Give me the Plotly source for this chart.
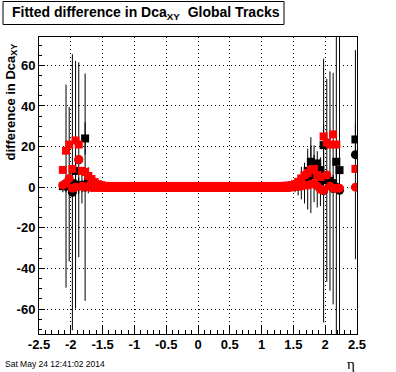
import plotly.graph_objects as go

# eta bin centres (bin width 0.05) where the histograms have entries
ETA = [-2.125, -2.075, -2.025, -1.975, -1.925, -1.875, -1.825, -1.775, -1.725, -1.675,
       -1.625, -1.575, -1.525, -1.475, -1.425, -1.375, -1.325, -1.275, -1.225, -1.175,
       -1.125, -1.075, -1.025, -0.975, -0.925, -0.875, -0.825, -0.775, -0.725, -0.675,
       -0.625, -0.575, -0.525, -0.475, -0.425, -0.375, -0.325, -0.275, -0.225, -0.175,
       -0.125, -0.075, -0.025, 0.025, 0.075, 0.125, 0.175, 0.225, 0.275, 0.325,
       0.375, 0.425, 0.475, 0.525, 0.575, 0.625, 0.675, 0.725, 0.775, 0.825,
       0.875, 0.925, 0.975, 1.025, 1.075, 1.125, 1.175, 1.225, 1.275, 1.325,
       1.375, 1.425, 1.475, 1.525, 1.575, 1.625, 1.675, 1.725, 1.775, 1.825,
       1.875, 1.925, 1.975, 2.025, 2.075, 2.125, 2.175, 2.225, 2.275, 2.325,
       2.375, 2.425, 2.475]

# black squares
BLACK_SQ = [0.5, 0.5, 0.8, 2.0, 8.0, 0.8, 0.5, 24.0, 0.5, 0.4,
            0.3, 0.2, 0.1, 0.1, 0.1, 0.1, 0.1, 0.1, 0.1, 0.1,
            0.1, 0.1, 0.1, 0.1, 0.1, 0.1, 0.1, 0.1, 0.1, 0.1,
            0.1, 0.1, 0.1, 0.1, 0.1, 0.1, 0.1, 0.1, 0.1, 0.1,
            0.1, 0.1, 0.1, 0.1, 0.1, 0.1, 0.1, 0.1, 0.1, 0.1,
            0.1, 0.1, 0.1, 0.1, 0.1, 0.1, 0.1, 0.1, 0.1, 0.1,
            0.1, 0.1, 0.1, 0.1, 0.1, 0.1, 0.1, 0.1, 0.1, 0.1,
            0.1, 0.2, 0.3, 0.5, 1.0, 2.0, 3.0, 8.0, 12.5, 10.0,
            11.7, 8.4, 20.7, 4.0, 3.0, 2.0, 12.5, 8.4, None, None,
            None, None, 23.5]
BLACK_SQ_ERR = [3, 3, 4, 5, 6, 4, 3, 8, 2, 2,
                1, 1, 1, 1, 1, 1, 1, 1, 1, 1,
                1, 1, 1, 1, 1, 1, 1, 1, 1, 1,
                1, 1, 1, 1, 1, 1, 1, 1, 1, 1,
                1, 1, 1, 1, 1, 1, 1, 1, 1, 1,
                1, 1, 1, 1, 1, 1, 1, 1, 1, 1,
                1, 1, 1, 1, 1, 1, 1, 1, 1, 1,
                1, 1, 1, 1, 2, 3, 4, 6, 8, 6,
                6, 5, 10, 4, 4, 4, 8, 6, 0, 0,
                0, 0, 8]

# black circles
BLACK_CI = [None, 0.5, 1.5, -2.5, 1.2, 13.5, 1.0, 0.0, 3.4, 1.0,
            0.5, 0.3, 0.0, 0.0, 0.0, 0.0, 0.0, 0.0, 0.0, 0.0,
            0.0, 0.0, 0.0, 0.0, 0.0, 0.0, 0.0, 0.0, 0.0, 0.0,
            0.0, 0.0, 0.0, 0.0, 0.0, 0.0, 0.0, 0.0, 0.0, 0.0,
            0.0, 0.0, 0.0, 0.0, 0.0, 0.0, 0.0, 0.0, 0.0, 0.0,
            0.0, 0.0, 0.0, 0.0, 0.0, 0.0, 0.0, 0.0, 0.0, 0.0,
            0.0, 0.0, 0.0, 0.0, 0.0, 0.0, 0.0, 0.0, 0.0, 0.0,
            0.0, 0.0, 0.3, 0.5, 1.0, 2.0, 2.0, 4.0, 5.9, 6.6,
            1.0, 2.7, -1.7, 3.4, 3.0, -0.7, 0.0, -1.5, None, None,
            None, None, 16.0]
BLACK_CI_ERR = [0, 50, 38, 68, 61, 48, 9, 56, 6.4, 3,
                2, 1.5, 1, 1, 1, 1, 1, 1, 1, 1,
                1, 1, 1, 1, 1, 1, 1, 1, 1, 1,
                1, 1, 1, 1, 1, 1, 1, 1, 1, 1,
                1, 1, 1, 1, 1, 1, 1, 1, 1, 1,
                1, 1, 1, 1, 1, 1, 1, 1, 1, 1,
                1, 1, 1, 1, 1, 1, 1, 1, 1, 1,
                1, 1, 2, 3, 5, 8, 10, 15, 18.7, 14,
                11, 12, 65, 50, 54, 57, 85, 90, 0, 0,
                0, 0, 51.5]

# red squares
RED_SQ = [8.5, 18.0, 21.0, 9.0, 23.0, 21.0, 8.0, 7.5, 5.5, 4.0,
          2.5, 1.5, 1.0, 0.7, 0.6, 0.6, 0.6, 0.6, 0.6, 0.6,
          0.6, 0.6, 0.6, 0.6, 0.6, 0.6, 0.6, 0.6, 0.6, 0.6,
          0.6, 0.6, 0.6, 0.6, 0.6, 0.6, 0.6, 0.6, 0.6, 0.6,
          0.6, 0.6, 0.6, 0.6, 0.6, 0.6, 0.6, 0.6, 0.6, 0.6,
          0.6, 0.6, 0.6, 0.6, 0.6, 0.6, 0.6, 0.6, 0.6, 0.6,
          0.6, 0.6, 0.6, 0.6, 0.6, 0.6, 0.6, 0.6, 0.6, 0.6,
          0.7, 0.8, 1.0, 1.5, 2.6, 4.3, 5.9, 7.0, 8.4, 9.0,
          6.0, 5.0, 25.0, 22.0, 21.0, 26.0, 21.0, None, None, None,
          None, None, 9.0]

# red circles
RED_CI = [1.0, 2.0, 4.3, -0.5, 0.0, 13.6, 0.5, 0.0, 0.5, -0.2,
          -0.2, -0.2, -0.2, -0.2, -0.2, -0.2, -0.2, -0.2, -0.2, -0.2,
          -0.2, -0.2, -0.2, -0.2, -0.2, -0.2, -0.2, -0.2, -0.2, -0.2,
          -0.2, -0.2, -0.2, -0.2, -0.2, -0.2, -0.2, -0.2, -0.2, -0.2,
          -0.2, -0.2, -0.2, -0.2, -0.2, -0.2, -0.2, -0.2, -0.2, -0.2,
          -0.2, -0.2, -0.2, -0.2, -0.2, -0.2, -0.2, -0.2, -0.2, -0.2,
          -0.2, -0.2, -0.2, -0.2, -0.2, -0.2, -0.2, -0.2, -0.2, -0.2,
          -0.2, -0.2, 0.0, 0.5, 0.3, 0.5, 1.0, 1.0, 1.5, 1.8,
          0.5, -1.0, -1.5, 6.0, 0.5, -0.5, -0.5, -0.5, None, None,
          None, None, 0.0]

X_TICKS = [-2.5, -2.0, -1.5, -1.0, -0.5, 0.0, 0.5, 1.0, 1.5, 2.0, 2.5]
X_TICK_LABELS = ["-2.5", "-2", "-1.5", "-1", "-0.5", "0", "0.5", "1", "1.5", "2", "2.5"]
Y_TICKS = [-60, -40, -20, 0, 20, 40, 60]
Y_TICK_LABELS = ["-60", "-40", "-20", "0", "20", "40", "60"]

TITLE = "Fitted difference in Dca<sub>XY</sub>\u00a0\u00a0Global Tracks"
Y_TITLE = "difference in Dca<sub>XY</sub>"
X_TITLE = "\u03b7"
DATE = "Sat May 24 12:41:02 2014"

W, H = 396, 372
L, R, T, B = 39, 39, 37, 38
PW, PH = W - L - R, H - T - B


def px(x):
    return (x - L) / PW


def py(y):
    return 1 - (y - T) / PH


fig = go.Figure()

def add(y, err, symbol, color, size):
    fig.add_trace(go.Scatter(
        x=ETA, y=y, mode="markers",
        marker=dict(symbol=symbol, color=color, size=size, line=dict(width=0)),
        error_y=dict(type="data", array=err, visible=err is not None,
                     color="black", thickness=1, width=0),
        showlegend=False, hoverinfo="skip"))

add(BLACK_SQ, BLACK_SQ_ERR, "square", "black", 8)
add(BLACK_CI, BLACK_CI_ERR, "circle", "black", 9)
add(RED_SQ, None, "square", "#ff0000", 8)
add(RED_CI, None, "circle", "#ff0000", 9)

tickfont = dict(family="Liberation Sans, Arial, sans-serif", size=13, color="black", weight="bold")

fig.update_layout(
    width=W, height=H, autosize=False,
    margin=dict(l=L, r=R, t=T, b=B, pad=0),
    paper_bgcolor="white", plot_bgcolor="white",
    xaxis=dict(range=[-2.5, 2.5], tickmode="array", tickvals=X_TICKS, ticktext=X_TICK_LABELS,
               ticks="inside", ticklen=9, tickwidth=1, tickcolor="black",
               showgrid=True, gridcolor="black", gridwidth=1, griddash="1px,3px",
               zeroline=False, showline=True, mirror=True, linecolor="black", linewidth=1,
               minor=dict(dtick=0.1, tick0=-2.5, ticks="inside", ticklen=4, tickcolor="black",
                          tickwidth=1, showgrid=False),
               tickfont=tickfont, ticklabelstandoff=-2, fixedrange=True),
    yaxis=dict(range=[-72.3, 73.95], tickmode="array", tickvals=Y_TICKS, ticktext=Y_TICK_LABELS,
               ticks="inside", ticklen=6, tickwidth=1, tickcolor="black",
               showgrid=True, gridcolor="black", gridwidth=1, griddash="1px,3px",
               zeroline=False, showline=True, mirror=True, linecolor="black", linewidth=1,
               minor=dict(dtick=5, tick0=0, ticks="inside", ticklen=3, tickcolor="black",
                          tickwidth=1, showgrid=False),
               tickfont=tickfont, fixedrange=True),
)

fig.add_shape(type="rect", xref="paper", yref="paper",
              x0=px(3), x1=px(284), y0=py(24.5), y1=py(1.5),
              line=dict(color="black", width=1), fillcolor="white", layer="above")

fig.add_annotation(xref="paper", yref="paper", x=px(146), y=py(13.5),
                   xanchor="center", yanchor="middle", showarrow=False, text=TITLE,
                   font=dict(family="Liberation Sans, Arial, sans-serif", size=14,
                             color="black", weight="bold"))

fig.add_annotation(xref="paper", yref="paper", x=px(11), y=py(42),
                   xanchor="center", yanchor="top", showarrow=False, text=Y_TITLE,
                   textangle=-90,
                   font=dict(family="Liberation Sans, Arial, sans-serif", size=13,
                             color="black", weight="bold"))

fig.add_annotation(xref="paper", yref="paper", x=px(351), y=py(364),
                   xanchor="center", yanchor="middle", showarrow=False, text=X_TITLE,
                   font=dict(family="Liberation Serif, serif", size=15, color="black"))

fig.add_annotation(xref="paper", yref="paper", x=px(3), y=py(364),
                   xanchor="left", yanchor="middle", showarrow=False, text=DATE,
                   font=dict(family="Liberation Sans, Arial, sans-serif", size=8.5,
                             color="black"))

fig.write_html("out.html", config={"displayModeBar": False},
               post_script="document.body.style.margin='0';document.body.style.overflow='hidden';")
